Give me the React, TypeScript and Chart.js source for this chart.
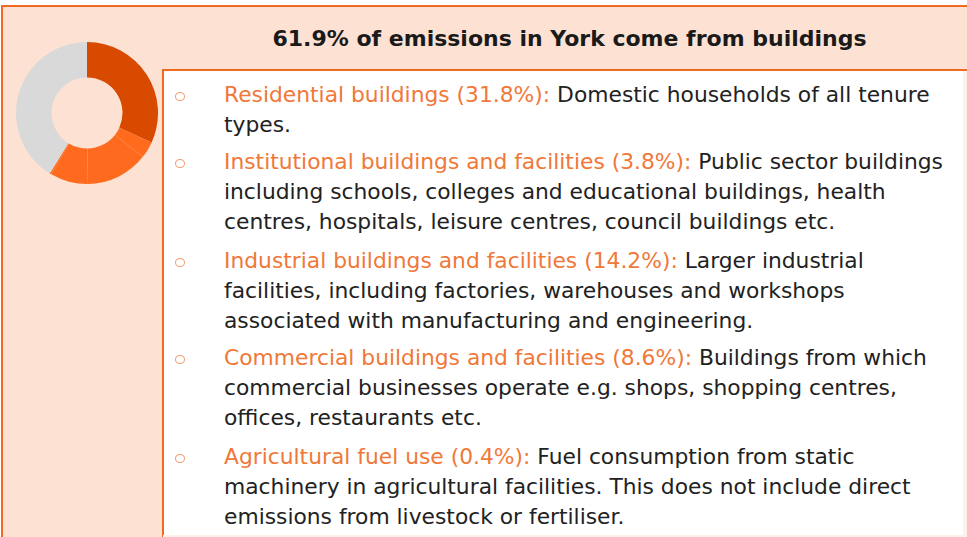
import React, { useEffect, useRef } from "react";
import { Chart, registerables } from "chart.js";

Chart.register(...registerables);

const categories = [
  "Residential buildings",
  "Institutional buildings and facilities",
  "Industrial buildings and facilities",
  "Commercial buildings and facilities",
  "Agricultural fuel use",
  "Other sources",
];
const shares = [31.8, 3.8, 14.2, 8.6, 0.4, 41.2];
const sliceColors = ["#D84A00", "#FF6A1D", "#FF6B1E", "#FF6A1F", "#FF6B1E", "#D9D9D9"];

const title = "61.9% of emissions in York come from buildings";
const labels = [
  "Residential buildings (31.8%):",
  "Institutional buildings and facilities (3.8%):",
  "Industrial buildings and facilities (14.2%):",
  "Commercial buildings and facilities (8.6%):",
  "Agricultural fuel use (0.4%):",
];
const descriptions: string[][] = [
  [" Domestic households of all tenure", "types."],
  [
    " Public sector buildings",
    "including schools, colleges and educational buildings, health",
    "centres, hospitals, leisure centres, council buildings etc.",
  ],
  [
    " Larger industrial",
    "facilities, including factories, warehouses and workshops",
    "associated with manufacturing and engineering.",
  ],
  [
    " Buildings from which",
    "commercial businesses operate e.g. shops, shopping centres,",
    "offices, restaurants etc.",
  ],
  [
    " Fuel consumption from static",
    "machinery in agricultural facilities. This does not include direct",
    "emissions from livestock or fertiliser.",
  ],
];

const ORANGE = "#F26A22";
const PEACH = "#FDE2D4";
const LABEL = "#F07838";
const FONT = "'DejaVu Sans', Verdana, sans-serif";

const paraTops = [80, 147, 246, 343, 442];
const LINE_H = 30;

export default function App() {
  const ref = useRef<HTMLCanvasElement | null>(null);

  useEffect(() => {
    if (!ref.current) return;
    const chart = new Chart(ref.current, {
      type: "doughnut",
      data: {
        labels: categories,
        datasets: [
          {
            data: shares,
            backgroundColor: sliceColors,
            borderWidth: 0,
          },
        ],
      },
      options: {
        responsive: false,
        animation: false,
        cutout: "50%",
        layout: { padding: 0 },
        plugins: { legend: { display: false }, tooltip: { enabled: false } },
      },
    });
    return () => chart.destroy();
  }, []);

  return (
    <div
      style={{
        position: "absolute",
        left: 0,
        top: 0,
        width: 967,
        height: 537,
        background: "#FFFFFF",
        overflow: "hidden",
        fontFamily: FONT,
      }}
    >
      {/* left panel */}
      <div
        style={{
          position: "absolute",
          left: 1,
          top: 5,
          width: 159,
          height: 540,
          background: PEACH,
          borderLeft: `2px solid ${ORANGE}`,
          borderTop: `2px solid ${ORANGE}`,
          borderRight: `2px solid ${ORANGE}`,
        }}
      />
      {/* header */}
      <div
        style={{
          position: "absolute",
          left: 162,
          top: 5,
          width: 805,
          height: 62,
          background: PEACH,
          borderTop: `2px solid ${ORANGE}`,
          borderBottom: `2px solid ${ORANGE}`,
          display: "flex",
          alignItems: "center",
          justifyContent: "center",
          fontWeight: "bold",
          fontSize: 22,
          color: "#1A1A1A",
          paddingLeft: 10,
          boxSizing: "content-box",
          width: 795,
        }}
      >
        {title}
      </div>
      {/* body right edge */}
      <div
        style={{
          position: "absolute",
          left: 963,
          top: 71,
          width: 4,
          height: 470,
          background: "#FDF1EA",
        }}
      />
      <div
        style={{
          position: "absolute",
          left: 163,
          top: 535,
          width: 804,
          height: 2,
          background: "#FDF1EA",
        }}
      />
      <canvas
        ref={ref}
        width={142}
        height={142}
        style={{ position: "absolute", left: 16, top: 42, width: 142, height: 142 }}
      />
      {labels.map((lab, i) => (
        <React.Fragment key={i}>
          <div
            style={{
              position: "absolute",
              left: 175,
              top: paraTops[i] + 12,
              width: 8,
              height: 7,
              borderRadius: "50%",
              border: `1.6px solid ${LABEL}`,
              opacity: 0.75,
            }}
          />
          {descriptions[i].map((line, j) => (
            <div
              key={j}
              style={{
                position: "absolute",
                left: 224,
                top: paraTops[i] + j * LINE_H,
                fontSize: 21.8,
                lineHeight: "30px",
                whiteSpace: "pre",
                color: "#222222",
              }}
            >
              {j === 0 ? <span style={{ color: LABEL }}>{lab}</span> : null}
              {line}
            </div>
          ))}
        </React.Fragment>
      ))}
    </div>
  );
}
